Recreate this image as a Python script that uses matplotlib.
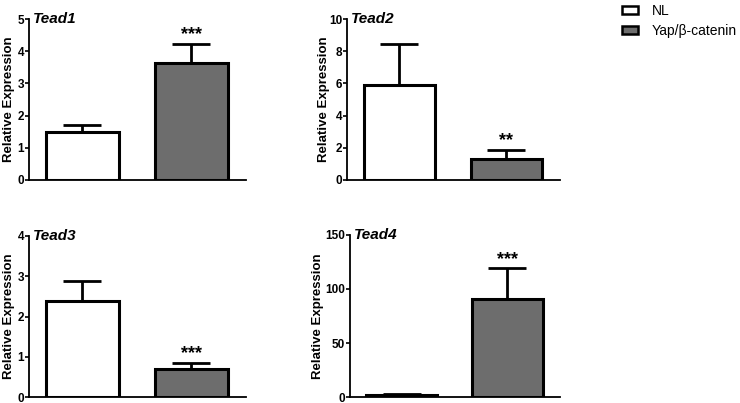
import matplotlib
matplotlib.use("Agg")
import matplotlib.pyplot as plt
from matplotlib.patches import Patch

plt.rcParams['font.family'] = ['Liberation Sans', 'DejaVu Sans']

genes = ["Tead1", "Tead2", "Tead3", "Tead4"]
groups = ["NL", "Yap/β-catenin"]
nl_means = [1.5, 5.9, 2.38, 2.0]
nl_errs = [0.2, 2.55, 0.49, 0.5]
yap_means = [3.62, 1.3, 0.7, 91.0]
yap_errs = [0.6, 0.55, 0.15, 28.0]
ymax = [5, 10, 4, 150]
yticks = [[0, 1, 2, 3, 4, 5], [0, 2, 4, 6, 8, 10], [0, 1, 2, 3, 4], [0, 50, 100, 150]]
stars = ["***", "**", "***", "***"]

fig = plt.figure(figsize=(7.4, 4.03), dpi=100)
W, H = 740, 403
boxes = [(29, 246, 19, 180), (347, 560, 19, 180), (29, 246, 236, 397), (350, 560, 235, 397)]
label_x = [-0.065, -0.08, -0.065, -0.125]
colors = ["white", "#6d6d6d"]

for i, g in enumerate(genes):
    l, r, t, b = boxes[i]
    ax = fig.add_axes([l / W, 1 - b / H, (r - l) / W, (b - t) / H])
    means = [nl_means[i], yap_means[i]]
    errs = [nl_errs[i], yap_errs[i]]
    x = [0, 1]
    ax.bar(x, means, width=0.67, color=colors, edgecolor="black", linewidth=2.2, zorder=3)
    ax.errorbar(x, means, yerr=[[0, 0], errs], fmt="none", ecolor="black",
                elinewidth=2, capsize=14, capthick=2, zorder=2)
    ax.text(1, yap_means[i] + yap_errs[i] + ymax[i] * 0.005, stars[i], ha="center", va="bottom",
            fontsize=13, fontweight="bold")
    ax.set_xlim(-0.49, 1.5)
    ax.set_ylim(0, ymax[i])
    ax.set_yticks(yticks[i])
    ax.set_xticks([])
    for s in ["top", "right"]:
        ax.spines[s].set_visible(False)
    ax.spines["left"].set_linewidth(1.3)
    ax.spines["bottom"].set_linewidth(1.3)
    ax.tick_params(axis="y", length=3, width=1.2, labelsize=8.5, pad=0.5)
    for lab in ax.get_yticklabels():
        lab.set_fontweight("bold")
    ax.set_ylabel("Relative Expression", fontsize=9.5, fontweight="bold")
    ax.yaxis.set_label_coords(label_x[i], 0.5)
    ax.text(0.02, 1.0, g, transform=ax.transAxes, ha="left", va="center",
            fontsize=11, fontweight="bold", fontstyle="italic")

handles = [Patch(facecolor=colors[k], edgecolor="black", linewidth=1.8, label=groups[k]) for k in range(2)]
fig.legend(handles=handles, loc="upper left", bbox_to_anchor=(622 / W, 1 - 4 / H), frameon=False,
           borderpad=0, borderaxespad=0,
           fontsize=10, handlelength=1.15, handleheight=0.5, handletextpad=1.0, labelspacing=0.45)

fig.savefig("out.png", dpi=100)
